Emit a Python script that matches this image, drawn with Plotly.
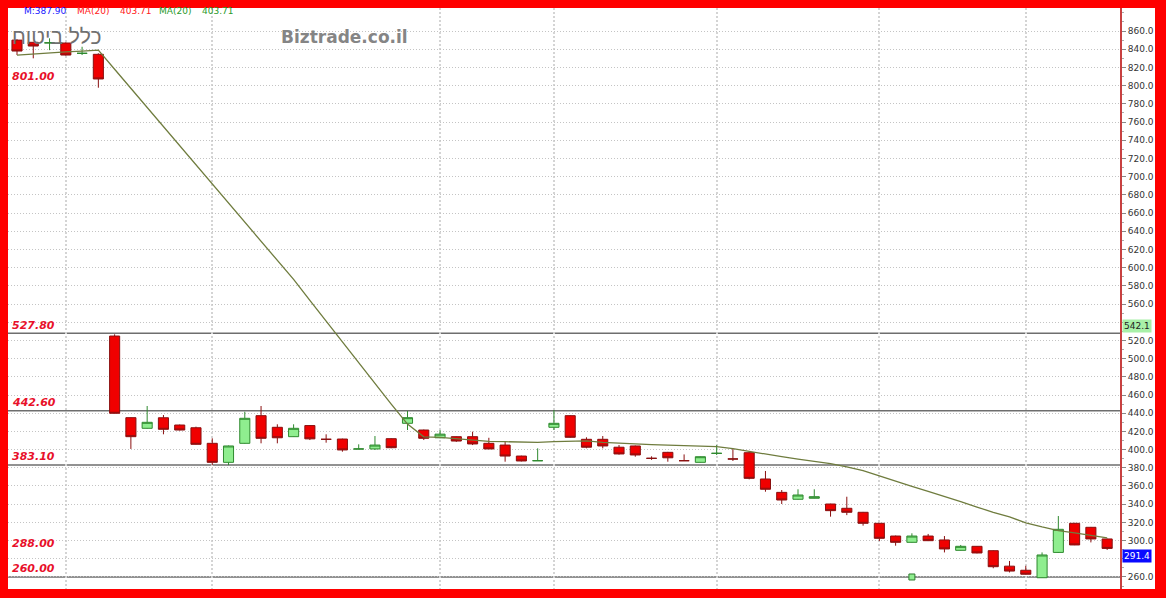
import plotly.graph_objects as go

# ---------------- data ----------------
opens = [850.0, 847.6, 847.0, 846.8, 835.5, 834.4, 524.8, 435.1, 423.4, 435.0,
         427.0, 424.0, 406.9, 386.0, 406.9, 437.3, 424.5, 414.2, 426.4, 411.3,
         411.6, 400.7, 400.7, 412.0, 428.9, 421.5, 413.0, 414.2, 414.2, 406.9,
         405.0, 392.9, 387.8, 424.5, 437.3, 411.3, 411.3, 402.6, 404.0, 390.4,
         397.0, 387.8, 386.0, 395.9, 389.7, 396.6, 367.7, 353.0, 345.4, 346.5,
         340.2, 335.5, 331.1, 319.0, 305.0, 298.1, 305.0, 300.7, 289.3, 293.7,
         288.9, 271.9, 267.4, 259.2, 287.0, 319.0, 314.6, 301.8]
highs = [851.0, 848.0, 852.0, 847.5, 842.7, 835.5, 526.7, 435.5, 447.9, 438.0,
         427.5, 425.2, 412.4, 404.5, 441.6, 447.9, 427.8, 427.8, 427.0, 416.8,
         412.0, 405.8, 414.9, 412.5, 442.4, 422.0, 421.5, 414.5, 419.7, 413.0,
         408.7, 393.3, 401.4, 443.5, 437.8, 413.5, 414.9, 405.0, 404.5, 392.6,
         397.5, 394.7, 392.5, 405.0, 400.7, 397.0, 376.5, 355.6, 356.4, 356.4,
         340.5, 348.2, 331.5, 319.5, 305.5, 308.0, 307.3, 305.0, 295.2, 294.0,
         289.3, 277.6, 272.3, 287.0, 327.0, 319.5, 315.0, 302.2]
lows = [833.6, 830.0, 839.0, 833.0, 833.6, 797.7, 439.5, 400.7, 423.0, 416.8,
        421.0, 405.5, 383.0, 383.0, 406.5, 406.9, 406.9, 414.0, 410.5, 407.6,
        397.7, 400.5, 399.6, 401.5, 421.5, 410.5, 412.5, 408.5, 405.0, 400.5,
        386.7, 387.0, 387.5, 421.5, 413.0, 401.4, 401.4, 394.5, 392.2, 388.7,
        386.7, 387.5, 385.8, 394.1, 387.5, 367.3, 353.7, 340.2, 345.0, 346.3,
        326.3, 328.0, 316.4, 299.5, 294.4, 297.8, 299.5, 287.0, 289.0, 286.0,
        269.6, 265.0, 262.5, 259.0, 286.5, 295.0, 298.0, 289.7]
closes = [838.0, 843.5, 847.0, 833.6, 835.5, 807.3, 439.9, 414.2, 430.0, 422.3,
          421.5, 405.8, 386.0, 404.0, 434.4, 412.4, 413.0, 423.4, 411.8, 411.3,
          399.6, 400.7, 405.0, 402.1, 435.1, 412.4, 417.0, 409.4, 406.2, 400.7,
          392.9, 387.5, 387.8, 428.9, 413.5, 402.6, 404.0, 395.2, 394.1, 390.4,
          391.0, 387.8, 392.2, 395.9, 389.7, 368.4, 356.4, 344.6, 350.1, 348.2,
          332.9, 331.1, 319.0, 302.5, 298.1, 305.0, 299.9, 290.8, 293.7, 286.4,
          271.3, 266.5, 263.0, 284.2, 312.4, 295.2, 301.8, 291.4]
ma20 = [833.6, 835.0, 836.0, 837.0, 838.0, 839.0, 818.0, 797.0, 776.0, 755.0,
        734.0, 713.0, 692.0, 671.0, 650.0, 629.0, 608.0, 587.0, 564.0, 541.0,
        518.0, 496.0, 473.0, 450.0, 428.0, 414.0, 413.5, 412.0, 410.0, 409.0,
        408.7, 408.3, 408.0, 408.7, 409.4, 409.5, 408.0, 407.0, 406.0, 405.5,
        405.0, 404.5, 404.0, 403.2, 401.0, 398.0, 394.7, 392.2, 389.6, 387.2,
        384.5, 381.0, 377.0, 371.0, 365.0, 359.5, 354.0, 348.7, 342.7, 336.9,
        331.0, 326.0, 319.5, 315.0, 311.0, 308.5, 305.5, 303.0]
idx = list(range(len(closes)))

level_values = [801.00, 527.80, 442.60, 383.10, 288.00, 260.00]
level_labels = ["801.00", "527.80", "442.60", "383.10", "288.00", "260.00"]
solid_levels = [527.80, 442.60, 383.10, 260.00]

month_starts = [3, 12, 26, 33, 43, 53, 62]
signal_idx = [55]
signal_val = [260.0]

last_price = 291.4
marker_price = 542.1
y_ticks = list(range(260, 861, 20))
hidden_ticks = [540, 280]   # covered by the price boxes in the reference

# ---------------- geometry helpers ----------------
W, H = 1166, 598
ML, MR, MT, MB = 8, 46, 8, 9
PW = W - ML - MR
PH = H - MT - MB


def px(xp):
    return (xp - ML) / PW


def py(yp):
    return 1 - (yp - MT) / PH


fig = go.Figure()

fig.add_trace(go.Candlestick(
    x=idx, open=opens, high=highs, low=lows, close=closes,
    increasing=dict(line=dict(color="#2f8a2f", width=1), fillcolor="#8fee8f"),
    decreasing=dict(line=dict(color="#8a1010", width=1), fillcolor="#f00000"),
    whiskerwidth=0, showlegend=False, hoverinfo="skip",
))

fig.add_trace(go.Scatter(
    x=idx, y=ma20, mode="lines",
    line=dict(color="#6f7c3e", width=1.3), showlegend=False, hoverinfo="skip",
))

fig.add_trace(go.Scatter(
    x=signal_idx, y=signal_val, mode="markers",
    marker=dict(symbol="square", size=6, color="#8fee8f",
                line=dict(color="#2f7a2f", width=1)),
    showlegend=False, hoverinfo="skip",
))

shapes = []
shapes.append(dict(type="rect", xref="paper", yref="paper",
                   x0=1, x1=px(1155), y0=0, y1=1,
                   fillcolor="white", line=dict(width=0), layer="below"))
for v in solid_levels:
    shapes.append(dict(type="line", xref="paper", yref="y", x0=0, x1=1,
                       y0=v, y1=v, line=dict(color="#6e6e6e", width=1.5),
                       layer="below"))

annotations = []
for v, t in zip(level_values, level_labels):
    annotations.append(dict(
        x=px(10), xref="paper", y=v, yref="y", yshift=8,
        text="<b><i>" + t + "</i></b>", showarrow=False,
        xanchor="left", yanchor="middle",
        font=dict(family="DejaVu Sans", size=11, color="#e8102a")))

annotations.append(dict(
    x=px(10), xref="paper", y=py(36), yref="paper",
    text="כלל ביטוח", showarrow=False, xanchor="left", yanchor="middle",
    font=dict(family="Liberation Sans, DejaVu Sans", size=21, color="#707070")))
annotations.append(dict(
    x=px(344), xref="paper", y=py(37), yref="paper",
    text="<b>Biztrade.co.il</b>", showarrow=False, xanchor="center",
    yanchor="middle",
    font=dict(family="DejaVu Sans", size=17, color="#858585")))

header = [(22, "M:387.90", "#1a1aff"), (75, "MA(20)", "#ff2020"),
          (118, "403.71", "#ff2020"), (157, "MA(20)", "#2a9a2a"),
          (200, "403.71", "#2a9a2a")]
for xp, t, c in header:
    annotations.append(dict(
        x=px(xp), xref="paper", y=py(11), yref="paper", text=t,
        showarrow=False, xanchor="left", yanchor="middle",
        font=dict(family="DejaVu Sans", size=9, color=c)))

annotations.append(dict(
    x=px(1122), xref="paper", y=marker_price, yref="y", yshift=-6,
    text="542.1", showarrow=False, xanchor="left", yanchor="middle",
    bgcolor="#a8f0a8", borderpad=1,
    font=dict(family="DejaVu Sans", size=9, color="#222222")))
annotations.append(dict(
    x=px(1122), xref="paper", y=last_price, yref="y", yshift=-8,
    text="291.4", showarrow=False, xanchor="left", yanchor="middle",
    bgcolor="#0a0aff", borderpad=1,
    font=dict(family="DejaVu Sans", size=9, color="white")))

fig.update_layout(
    width=W, height=H,
    margin=dict(l=ML, r=MR, t=MT, b=MB, pad=0),
    paper_bgcolor="#ff0000", plot_bgcolor="white",
    boxgap=0.38, boxgroupgap=0,
    shapes=shapes, annotations=annotations,
    showlegend=False,
    xaxis=dict(
        range=[-0.553, 67.79], rangeslider=dict(visible=False),
        tickmode="array", tickvals=month_starts, showticklabels=False,
        ticks="", showgrid=True, gridcolor="#d4d4d4", griddash="2px,2px",
        gridwidth=1.5, zeroline=False, showline=False, fixedrange=True,
    ),
    yaxis=dict(
        side="right", range=[246.8, 885.3],
        tickmode="array", tickvals=y_ticks,
        ticktext=["" if v in hidden_ticks else f"{v:.1f}" for v in y_ticks],
        ticks="outside", ticklen=4, tickcolor="#888888",
        minor=dict(ticks="outside", ticklen=2, tickcolor="#aaaaaa", dtick=10,
                   tick0=0),
        showline=True, linecolor="#c84040", linewidth=2,
        showgrid=True, gridcolor="#c4c4c4", griddash="1px,2px", gridwidth=1,
        zeroline=False,
        tickfont=dict(family="DejaVu Sans", size=9, color="#333333"),
    ),
)

fig.write_html(
    "out.html",
    config={"displayModeBar": False},
    post_script="document.body.style.margin='0';"
                "document.body.style.background='#ff0000';",
)
